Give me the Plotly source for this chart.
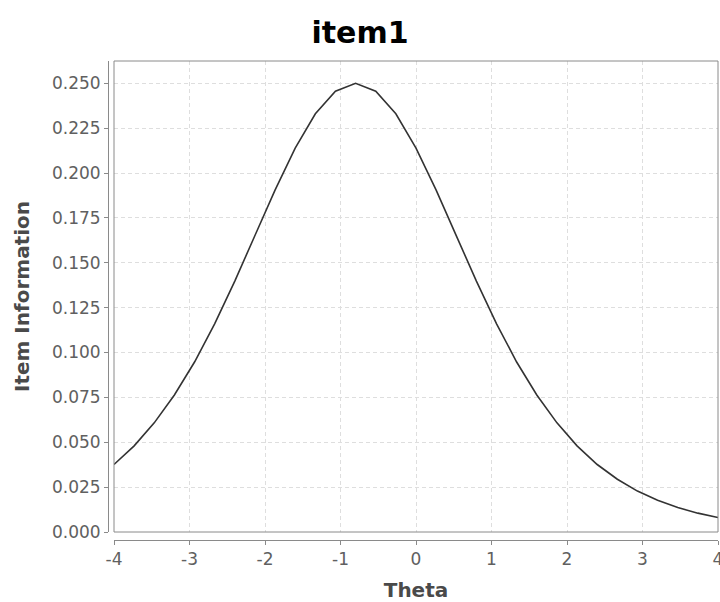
import plotly.graph_objects as go

theta = [-4.0, -3.733, -3.467, -3.2, -2.933, -2.667, -2.4, -2.133, -1.867, -1.6,
         -1.333, -1.067, -0.8, -0.533, -0.267, 0.0, 0.267, 0.533, 0.8, 1.067,
         1.333, 1.6, 1.867, 2.133, 2.4, 2.667, 2.933, 3.2, 3.467, 3.733, 4.0]
info = [0.0376, 0.0480, 0.0608, 0.0763, 0.0947, 0.1160, 0.1398, 0.1651, 0.1905, 0.2139,
        0.2330, 0.2456, 0.2500, 0.2456, 0.2330, 0.2139, 0.1905, 0.1651, 0.1398, 0.1160,
        0.0947, 0.0763, 0.0608, 0.0480, 0.0376, 0.0294, 0.0228, 0.0177, 0.0136, 0.0105, 0.0081]

x_ticks = [-4, -3, -2, -1, 0, 1, 2, 3, 4]
y_ticks = [0.0, 0.025, 0.05, 0.075, 0.1, 0.125, 0.15, 0.175, 0.2, 0.225, 0.25]
y_tick_labels = ["0.000", "0.025", "0.050", "0.075", "0.100", "0.125", "0.150",
                 "0.175", "0.200", "0.225", "0.250"]

W, H = 720, 602
L, R, T, B = 108, 2, 61, 62
pw = W - L - R
ph = H - T - B
xd0 = 6 / pw
yd0 = 8 / ph

fig = go.Figure()
fig.add_trace(go.Scatter(x=theta, y=info, mode="lines",
                         line=dict(color="#333333", width=1.6),
                         showlegend=False, hoverinfo="skip"))

axis_col = "#8a8a8a"
tick_font = dict(family="DejaVu Sans", size=17, color="#606060")
title_font = dict(family="DejaVu Sans", size=20, color="#4a4a4a")

fig.update_layout(
    width=W, height=H,
    margin=dict(l=L, r=R, t=T, b=B, pad=0, autoexpand=False),
    paper_bgcolor="white", plot_bgcolor="white",
    title=dict(text="<b>item1</b>", x=0.5, xref="container", xanchor="center",
               y=1 - 32 / H, yref="container", yanchor="middle",
               font=dict(family="DejaVu Sans", size=30, color="#000000"),
               automargin=False),
    xaxis=dict(domain=[xd0, 1], anchor="free", position=0, automargin=False,
               range=[-4, 4], tickvals=x_ticks, ticktext=[str(v) for v in x_ticks],
               ticklabeloverflow="allow",
               showline=True, linecolor=axis_col, linewidth=1,
               ticks="outside", ticklen=4, tickcolor=axis_col,
               showgrid=True, gridcolor="#dedede", griddash="4px,3px", gridwidth=1,
               zeroline=False, tickfont=tick_font,
               title=dict(text="<b>Theta</b>", standoff=15, font=title_font)),
    yaxis=dict(domain=[yd0, 1], anchor="free", position=0, automargin=False,
               range=[0, 0.2624], tickvals=y_ticks, ticktext=y_tick_labels,
               ticklabeloverflow="allow",
               showline=True, linecolor=axis_col, linewidth=1,
               ticks="outside", ticklen=4, tickcolor=axis_col,
               showgrid=True, gridcolor="#dedede", griddash="4px,3px", gridwidth=1,
               zeroline=False, tickfont=tick_font,
               title=dict(text="<b>Item Information</b>", standoff=15, font=title_font)),
)

fig.add_shape(type="rect", xref="paper", yref="paper",
              x0=xd0, x1=1, y0=yd0, y1=1,
              line=dict(color=axis_col, width=1), layer="above")

fig.write_html("out.html", config={"displayModeBar": False},
               post_script="document.body.style.margin='0';document.body.style.overflow='hidden';")
